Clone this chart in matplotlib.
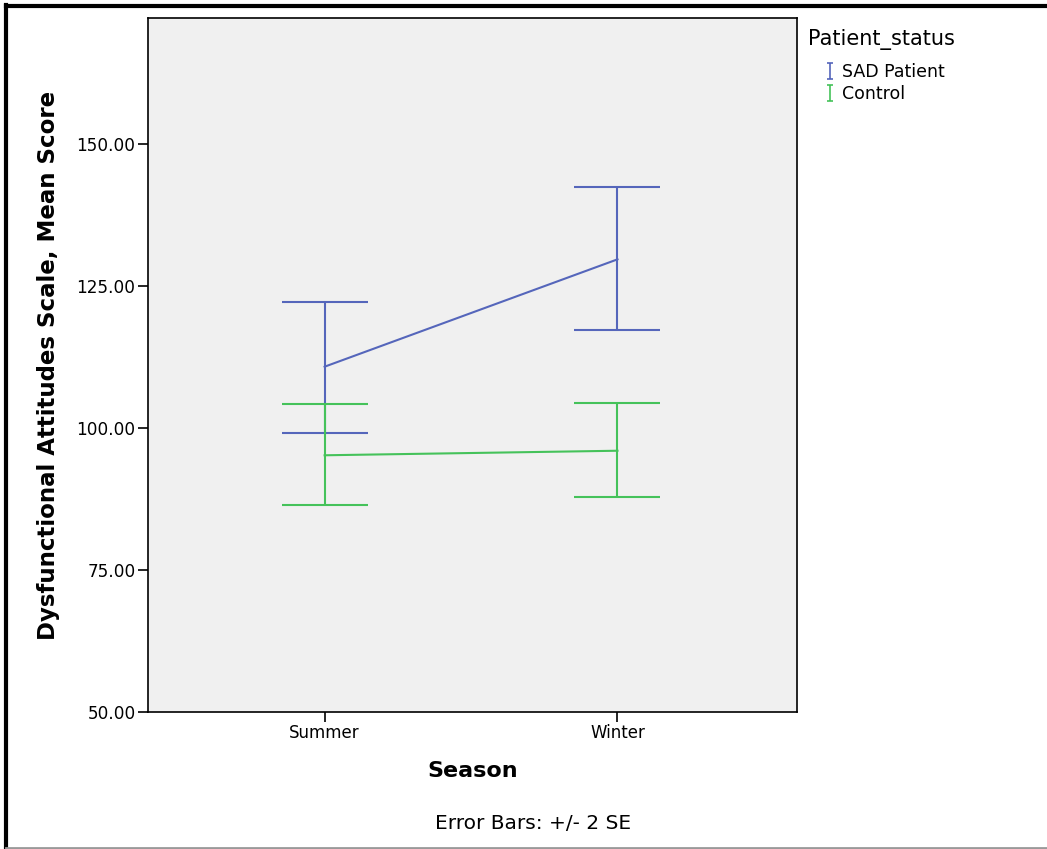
import matplotlib.pyplot as plt
from matplotlib.lines import Line2D
from matplotlib.path import Path

# Data (mean +/- 2 SE)
seasons = ['Summer', 'Winter']
groups = ['SAD Patient', 'Control']
means = {'SAD Patient': [110.8, 129.7], 'Control': [95.2, 96.0]}
upper = {'SAD Patient': [122.2, 142.4], 'Control': [104.2, 104.4]}
lower = {'SAD Patient': [99.2, 117.3], 'Control': [86.4, 87.8]}
colors = {'SAD Patient': '#5566bb', 'Control': '#45c25a'}

yticks = [50, 75, 100, 125, 150]

fig = plt.figure(figsize=(10.47, 8.49), dpi=100)
ax = fig.add_axes([0.1414, 0.1614, 0.6198, 0.8174])
ax.set_facecolor('#f0f0f0')

x = list(range(len(seasons)))
for g in groups:
    m = means[g]
    err = [[m[i] - lower[g][i] for i in x], [upper[g][i] - m[i] for i in x]]
    ax.errorbar(x, m, yerr=err, color=colors[g], lw=1.5, elinewidth=1.5,
                capsize=31, capthick=1.5)

ax.set_xlim(-0.603, 1.613)
ax.set_ylim(50, 172.2)
ax.set_xticks(x)
ax.set_xticklabels(seasons, fontsize=12)
ax.set_yticks(yticks)
ax.set_yticklabels(['%.2f' % v for v in yticks], fontsize=12.2)
ax.tick_params(length=7, width=1.2, direction='out', pad=2)
for s in ax.spines.values():
    s.set_linewidth(1.2)

ax.set_ylabel('Dysfunctional Attitudes Scale, Mean Score', fontsize=16.5,
              fontweight='bold', labelpad=12)
ax.set_xlabel('Season', fontsize=16, fontweight='bold', labelpad=13)
fig.text(0.509, 0.0306, 'Error Bars: +/- 2 SE', fontsize=14.5,
         ha='center', va='center')

# small error-bar glyph for the legend
ibeam = Path([(-0.45, -1), (0.45, -1), (0, -1), (0, 1), (-0.45, 1), (0.45, 1)],
             [Path.MOVETO, Path.LINETO, Path.MOVETO, Path.LINETO,
              Path.MOVETO, Path.LINETO])

# legend: title as text, entries indented below it
fig.text(0.772, 1 - 40 / 849, 'Patient_status', fontsize=15, va='center')
handles = [Line2D([], [], color=colors[g], marker=ibeam, linestyle='None',
                  markersize=11, markeredgewidth=1.2) for g in groups]
fig.legend(handles, groups, loc='upper left', bbox_to_anchor=(0.781, 0.926),
           frameon=False, fontsize=12.5, handletextpad=0.0, handlelength=1.4,
           labelspacing=0.25, borderaxespad=0, borderpad=0)

# outer frame like the screenshot
fig.add_artist(Line2D([0.006, 0.006], [0, 0.994], color='black', lw=3))
fig.add_artist(Line2D([0.006, 1], [0.993, 0.993], color='black', lw=3))
fig.add_artist(Line2D([0.006, 1], [0.001, 0.001], color='#999999', lw=2))

fig.savefig('out.png', dpi=100)
